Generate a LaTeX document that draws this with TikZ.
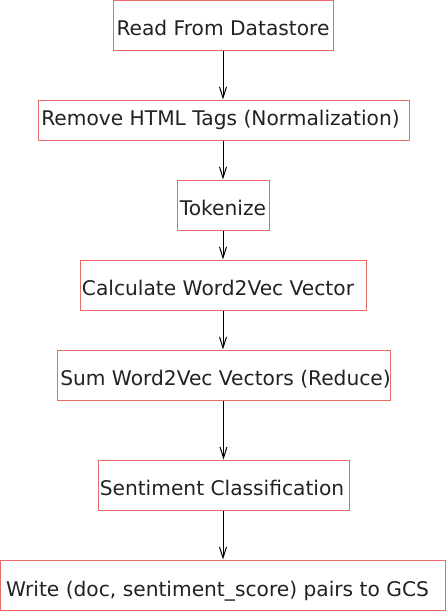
\documentclass[tikz,border=0pt]{standalone}
\usepackage{fontspec}
\setmainfont{DejaVu Sans}
\usetikzlibrary{arrows.meta}
\definecolor{boxred}{HTML}{EA6B66}
\definecolor{txt}{HTML}{222222}
\tikzset{
  stepbox/.style={draw=boxred, line width=1pt, fill=white, inner sep=0pt,
    text=txt, font=\fontsize{20.2}{24}\selectfont, text height=20pt, text depth=0pt,
    minimum height=50pt, anchor=center},
  flow/.style={draw=black, line width=1pt, -{Straight Barb[length=11pt,width=7pt,line width=1pt]}}
}
\begin{document}
\begin{tikzpicture}[x=1pt,y=-1pt]
\useasboundingbox (0,0) rectangle (446,611);
\node[stepbox, minimum width=220pt] (n1) at (223,25) {Read From Datastore};
\node[stepbox, minimum width=371pt, minimum height=40pt] (n2) at (223.5,120) {\raisebox{4.8pt}{Remove HTML Tags (Normalization)}\hspace*{6pt}};
\node[stepbox, minimum width=92pt] (n3) at (223,205) {Tokenize};
\node[stepbox, minimum width=286pt] (n4) at (223,285) {Calculate Word2Vec Vector\hspace*{10pt}};
\node[stepbox, minimum width=333pt] (n5) at (223.5,375) {\makebox[330pt]{\hspace*{4pt}Sum Word2Vec Vectors (Reduce)}};
\node[stepbox, minimum width=251pt] (n6) at (223.5,485) {Sentiment Classification\hspace*{3pt}};
\node[stepbox, minimum width=445pt] (n7) at (223,585) {\raisebox{-1.2pt}{Write (doc, sentiment\_score) pairs to GCS}\hspace*{11pt}};
\draw[flow] (n1.south) -- (n1.south |- n2.north);
\draw[flow] (n2.south -| n3.north) -- (n3.north);
\draw[flow] (n3.south) -- (n4.north);
\draw[flow] (n4.south) -- (n4.south |- n5.north);
\draw[flow] (n5.south -| n6.north) -- (n6.north);
\draw[flow] (n6.south -| n7.north) -- (n7.north);
\end{tikzpicture}
\end{document}
